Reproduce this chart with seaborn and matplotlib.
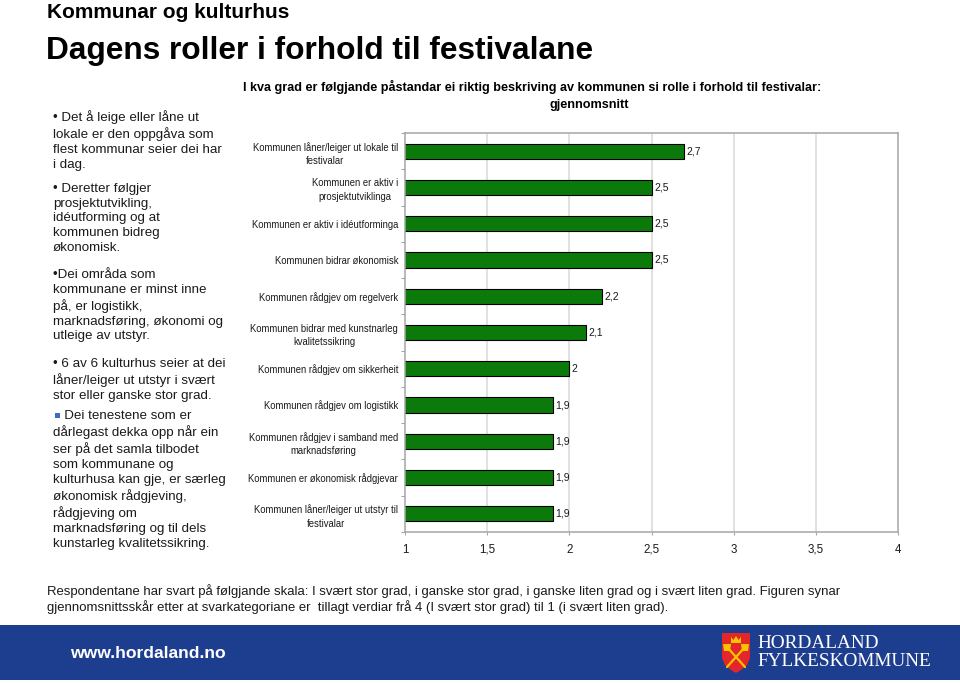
import matplotlib
matplotlib.use('Agg')
import matplotlib.pyplot as plt
import seaborn as sns
import pandas as pd
from matplotlib.patches import Rectangle, Polygon
from matplotlib.lines import Line2D

# ==========================================
# data
# ==========================================
påstandar = [
    'Kommunen låner/leiger ut lokale til\nfestivalar',
    'Kommunen er aktiv i\nprosjektutviklinga',
    'Kommunen er aktiv i idéutforminga',
    'Kommunen bidrar økonomisk',
    'Kommunen rådgjev om regelverk',
    'Kommunen bidrar med kunstnarleg\nkvalitetssikring',
    'Kommunen rådgjev om sikkerheit',
    'Kommunen rådgjev om logistikk',
    'Kommunen rådgjev i samband med\nmarknadsføring',
    'Kommunen er økonomisk rådgjevar',
    'Kommunen låner/leiger ut utstyr til\nfestivalar',
]
snitt = [2.7, 2.5, 2.5, 2.5, 2.2, 2.1, 2.0, 1.9, 1.9, 1.9, 1.9]
x_ticks = [1, 1.5, 2, 2.5, 3, 3.5, 4]
x_tick_labels = ['1', '1,5', '2', '2,5', '3', '3,5', '4']

tittel = 'Kommunar og kulturhus'
undertittel = 'Dagens roller i forhold til festivalane'
graf_tittel_1 = 'I kva grad er følgjande påstandar ei riktig beskriving av kommunen si rolle i forhold til festivalar:'
graf_tittel_2 = 'gjennomsnitt'

punkt = [
    '• Det å leige eller låne ut\nlokale er den oppgåva som\nflest kommunar seier dei har\ni dag.',
    '• Deretter følgjer\nprosjektutvikling,\nidéutforming og at\nkommunen bidreg\nøkonomisk.',
    '•Dei områda som\nkommunane er minst inne\npå, er logistikk,\nmarknadsføring, økonomi og\nutleige av utstyr.',
    '• 6 av 6 kulturhus seier at dei\nlåner/leiger ut utstyr i svært\nstor eller ganske stor grad.',
    '   Dei tenestene som er\ndårlegast dekka opp når ein\nser på det samla tilbodet\nsom kommunane og\nkulturhusa kan gje, er særleg\nøkonomisk rådgjeving,\nrådgjeving om\nmarknadsføring og til dels\nkunstarleg kvalitetssikring.',
]
punkt_y = [118, 191, 277, 366, 418]

fotnote = ('Respondentane har svart på følgjande skala: I svært stor grad, i ganske stor grad, '
           'i ganske liten grad og i svært liten grad. Figuren synar\n'
           'gjennomsnittsskår etter at svarkategoriane er  tillagt verdiar frå 4 (I svært stor grad) '
           'til 1 (i svært liten grad).')

# ==========================================
# style
# ==========================================
sns.set_theme(style='white')
plt.rcParams['font.family'] = ['Liberation Sans', 'DejaVu Sans']
plt.rcParams['text.color'] = 'black'

GREEN = '#0b7a0b'
BLUE = '#1d3e8e'
GRAY = '#a6a6a6'
INK = '#1a1a1a'

W, H = 960, 683
fig = plt.figure(figsize=(W / 100, H / 100), dpi=100)


def px(x, y):
    return x / W, 1 - y / H


# titles
fig.text(*px(47, 18), tittel, fontsize=15, fontweight='bold', va='baseline', ha='left')
fig.text(*px(46, 59), undertittel, fontsize=22.8, fontweight='bold', va='baseline', ha='left')

# bullet text
for txt, y in zip(punkt, punkt_y):
    fig.text(*px(53, y - 8), txt, fontsize=9.6, va='top', ha='left', linespacing=1.30, color=INK)
# blue square bullet
fig.patches.append(Rectangle(px(55, 418), 5 / W, 5 / H, transform=fig.transFigure,
                             facecolor='#3a6cc0', edgecolor='none'))

# chart title
fig.text(*px(243, 87), graf_tittel_1, fontsize=9.1, fontweight='bold', va='center', ha='left')
fig.text(*px(589, 105), graf_tittel_2, fontsize=9.1, fontweight='bold', va='center', ha='center')

# ==========================================
# bar chart
# ==========================================
df = pd.DataFrame({'påstand': påstandar, 'snitt': snitt})
ax = fig.add_axes([405 / W, 1 - 532 / H, (898 - 405) / W, (532 - 133) / H])
sns.barplot(data=df, x='snitt', y='påstand', orient='h', color=GREEN, saturation=1,
            edgecolor='black', linewidth=0.8, width=0.42, ax=ax)

ax.set_xlim(1, 4)
ax.set_ylim(len(påstandar) - 0.5, -0.5)
ax.set_xlabel('')
ax.set_ylabel('')
ax.set_xticks(x_ticks)
ax.set_xticklabels(x_tick_labels, fontsize=8.3, color=INK)
ax.set_yticks(range(len(påstandar)))
ax.set_yticklabels(påstandar, fontsize=6.85, color=INK,
                   multialignment='center', linespacing=1.45)
ax.set_yticks([i - 0.5 for i in range(len(påstandar) + 1)], minor=True)
ax.tick_params(axis='y', which='major', length=0, pad=5)
ax.tick_params(axis='y', which='minor', length=3, color=GRAY, width=0.8, left=True)
ax.tick_params(axis='x', which='major', length=2.5, color=GRAY, width=0.8, bottom=True, pad=6)

for xv in x_ticks[1:-1]:
    ax.axvline(xv, color='#dcdcdc', lw=1.2, zorder=0)
for s in ax.spines.values():
    s.set_color(GRAY)
    s.set_linewidth(1.1)
    s.set_visible(True)

for i, v in enumerate(snitt):
    ax.text(v + 0.015, i, f'{v:g}'.replace('.', ','), va='center', ha='left',
            fontsize=7.5, color=INK)

# footnote
fig.text(*px(47, 599), fotnote, fontsize=9.45, va='center', ha='left',
         linespacing=1.2, color=INK)

# ==========================================
# footer band + logo
# ==========================================
fig.patches.append(Rectangle(px(0, 680), 1, 55 / H, transform=fig.transFigure,
                             facecolor=BLUE, edgecolor='none', zorder=0))
fig.text(*px(70, 653), 'www.hordaland.no', fontsize=12.6, fontweight='bold', color='white',
         va='center', ha='left')

shield = [(722, 633), (750, 633), (750, 658), (747, 665), (741, 670), (736, 673),
          (731, 670), (725, 665), (722, 658)]
fig.patches.append(Polygon([px(*p) for p in shield], closed=True, transform=fig.transFigure,
                           facecolor='#e3262a', edgecolor='none', zorder=2))
for (x0, y0, x1, y1) in [(727, 647, 745, 667), (745, 647, 727, 667)]:
    fig.lines.append(Line2D([x0 / W, x1 / W], [1 - y0 / H, 1 - y1 / H], transform=fig.transFigure,
                            color='#f6c500', lw=1.6, zorder=3))
for hx in (727, 745):
    head = [(hx - 4, 644), (hx + 4, 644), (hx + 3, 651), (hx - 3, 651)]
    fig.patches.append(Polygon([px(*p) for p in head], closed=True, transform=fig.transFigure,
                               facecolor='#f6c500', edgecolor='none', zorder=3))
crown = [(731, 643), (731, 637), (733.5, 640), (736, 636), (738.5, 640), (741, 637), (741, 643)]
fig.patches.append(Polygon([px(*p) for p in crown], closed=True, transform=fig.transFigure,
                           facecolor='#f6c500', edgecolor='none', zorder=3))

fig.text(*px(757, 644), 'HORDALAND', fontsize=13.9, color='white', va='center', ha='left',
         family='Liberation Serif')
fig.text(*px(757, 662), 'FYLKESKOMMUNE', fontsize=13.9, color='white', va='center', ha='left',
         family='Liberation Serif')

fig.savefig('out.png', dpi=100)
